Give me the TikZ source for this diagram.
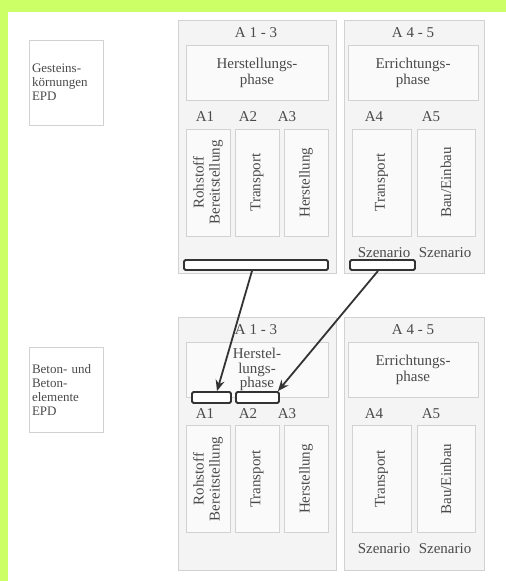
\documentclass[tikz,border=0pt]{standalone}
\usepackage{fontspec}
\setmainfont{Liberation Serif}
\usetikzlibrary{arrows.meta}

\definecolor{limebg}{HTML}{CCFF66}
\definecolor{boxline}{HTML}{D2D2D2}
\definecolor{boxfill}{HTML}{F4F4F4}
\definecolor{cellfill}{HTML}{FAFAFA}
\definecolor{txtgray}{HTML}{4A4A4A}
\definecolor{markline}{HTML}{333333}

\tikzset{
  txt/.style={text=txtgray, font=\fontsize{15}{16}\selectfont},
  epd/.style={draw=boxline, fill=white, txt, font=\fontsize{13}{14}\selectfont,
    text width=68pt, inner xsep=3pt, minimum height=85pt, align=left},
  stage/.style={draw=boxline, fill=boxfill, minimum width=#1, minimum height=253pt, inner sep=0pt},
  title/.style={txt, inner sep=1pt},
  phase/.style={draw=boxline, fill=cellfill, txt, minimum width=#1, minimum height=55pt, align=center},
  lbl/.style={txt, inner sep=1pt},
  cell/.style={draw=boxline, fill=cellfill, txt, rotate=90, align=center,
    minimum width=107pt, minimum height=#1, inner sep=0pt},
  markbox/.style={draw=markline, fill=white, line width=1.8pt, rounded corners=1.5pt,
    minimum height=10pt, inner sep=0pt},
  flow/.style={draw=markline, line width=1.8pt, -{Stealth[length=11pt,width=9pt]}}
}

\begin{document}
\begin{tikzpicture}[x=1pt, y=-1pt]
\useasboundingbox (0,0) rectangle (506,581);

% Background
\fill[limebg] (0,0) rectangle (506,581);
\fill[white] (8,12) rectangle (506,581);

% Gesteinskoernungen EPD (top)
\node[epd] (gEPD) at (66,82.5) {Gesteins-\\körnungen\\EPD};
\node[stage=158pt] (gStage13) at (257,146.5) {};
\node[stage=140pt] (gStage45) at (414,146.5) {};
\node[title] (gTitle13) at (256,33) {A 1 - 3};
\node[title] (gTitle45) at (413,33) {A 4 - 5};
\node[phase=142pt] (gPhase13) at (257,72.5) {Herstellungs-\\phase};
\node[phase=130pt] (gPhase45) at (413,72.5) {Errichtungs-\\phase};
% Modules
\node[lbl] (gLblA1) at (205,117) {A1};
\node[lbl] (gLblA2) at (248,117) {A2};
\node[lbl] (gLblA3) at (287,117) {A3};
\node[lbl] (gLblA4) at (374,117) {A4};
\node[lbl] (gLblA5) at (431,117) {A5};
\node[cell=44pt] (gA1) at (208,182.5) {Rohstoff\\Bereitstellung};
\node[cell=44pt] (gA2) at (257,182.5) {Transport};
\node[cell=44pt] (gA3) at (306,182.5) {Herstellung};
\node[cell=59pt] (gA4) at (381.5,182.5) {Transport};
\node[cell=58pt] (gA5) at (446,182.5) {Bau/Einbau};
\node[lbl] (gScen4) at (384,253) {Szenario};
\node[lbl] (gScen5) at (445,253) {Szenario};
% Highlighted parts
\node[markbox, minimum width=144pt] (gMark13) at (256,265) {};
\node[markbox, minimum width=65pt] (gMark45) at (382.5,265) {};

% Beton- und Betonelemente EPD (bottom)
\node[epd] (bEPD) at (66,390) {Beton- und\\Beton-\\elemente\\EPD};
\node[stage=158pt] (bStage13) at (257,444) {};
\node[stage=140pt] (bStage45) at (414,444) {};
\node[title] (bTitle13) at (256,330) {A 1 - 3};
\node[title] (bTitle45) at (413,330) {A 4 - 5};
\node[phase=142pt, font=\fontsize{15}{14.5}\selectfont] (bPhase13) at (257,369.5) {Herstel-\\lungs-\\phase};
\node[phase=130pt] (bPhase45) at (413,369.5) {Errichtungs-\\phase};
% Modules
\node[lbl] (bLblA1) at (205,414) {A1};
\node[lbl] (bLblA2) at (248,414) {A2};
\node[lbl] (bLblA3) at (287,414) {A3};
\node[lbl] (bLblA4) at (374,414) {A4};
\node[lbl] (bLblA5) at (431,414) {A5};
\node[cell=44pt] (bA1) at (208,479) {Rohstoff\\Bereitstellung};
\node[cell=44pt] (bA2) at (257,479) {Transport};
\node[cell=44pt] (bA3) at (306,479) {Herstellung};
\node[cell=59pt] (bA4) at (381.5,479) {Transport};
\node[cell=58pt] (bA5) at (446,479) {Bau/Einbau};
\node[lbl] (bScen4) at (384,549) {Szenario};
\node[lbl] (bScen5) at (445,549) {Szenario};
% Highlighted parts
\node[markbox, minimum width=39pt, minimum height=11pt] (bMark1) at (211.5,397.5) {};
\node[markbox, minimum width=43pt, minimum height=11pt] (bMark2) at (257.5,397.5) {};

% Arrows
\draw[flow] ([xshift=-4pt]gMark13.south) -- ([xshift=5.5pt]bMark1.north);
\draw[flow] ([xshift=-4.5pt]gMark45.south) -- ([xshift=-2pt]bMark2.north east);

\end{tikzpicture}
\end{document}
